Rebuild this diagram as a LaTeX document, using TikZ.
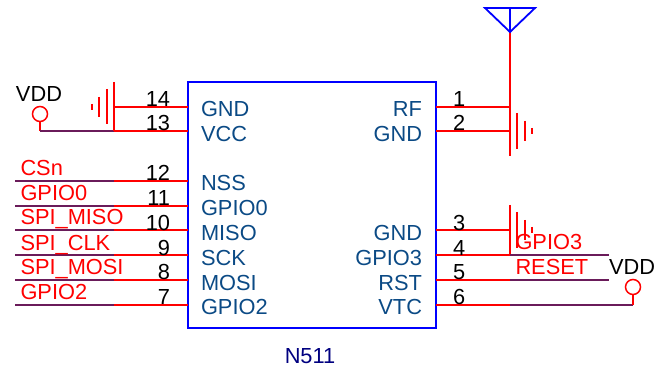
\documentclass[tikz,border=0pt]{standalone}
\usepackage{fontspec}
\setmainfont{Liberation Sans}
\definecolor{pinname}{HTML}{0B4A85}
\definecolor{netdark}{HTML}{6A1B5A}
\definecolor{wirered}{HTML}{FF0000}
\begin{document}
\begin{tikzpicture}[x=1pt, y=-1pt,
	every node/.style={inner sep=0, outer sep=0, font=\fontsize{21.8}{24}\selectfont},
	wire/.style={wirered, line width=1.5pt},
	net/.style={netdark, line width=1.5pt},
	gndbar/.style={wirered, line width=1.4pt},
	antenna/.style={blue, line width=1.8pt},
	pinnum/.style={black, anchor=base east},
	pinnumr/.style={black, anchor=base west},
	namel/.style={pinname, anchor=base west},
	namer/.style={pinname, anchor=base east},
	netlabel/.style={red, anchor=base west},
	supply/.style={circle, draw=red, line width=1.5pt, minimum size=15pt}]
	\useasboundingbox (0, 0) rectangle (671, 371);

	\node[draw=blue, line width=2pt, minimum width=247.5pt, minimum height=246pt] (chip) at (311.75, 205) {};
	\node[anchor=base, text=blue!50!black] (chip-name) at (310, 363) {N511};

	% left supply and ground
	\node[anchor=base west] (vdd-left-label) at (16, 102) {VDD};
	\node[supply] (vdd-left) at (40, 114) {};
	\coordinate (vdd-left-corner) at (40, 131);
	\coordinate (gnd-left-top) at (114, 82);
	\coordinate (gnd-left-a) at (114, 107);
	\coordinate (gnd-left-b) at (114, 131);
	\coordinate (pin-14) at (188, 107);
	\coordinate (pin-13) at (188, 131);
	\draw[wire] (vdd-left) -- (vdd-left-corner);
	\draw[net] (vdd-left-corner) -- (gnd-left-b);
	\draw[wire] (gnd-left-top) -- (gnd-left-b);
	\draw[wire] (gnd-left-a) -- (pin-14);
	\draw[wire] (gnd-left-b) -- (pin-13);
	\draw[gndbar] (107, 89) -- (107, 124);
	\draw[gndbar] (99, 97) -- (99, 117);
	\draw[gndbar] (92, 104) -- (92, 110);

	\node[pinnum] (num-14) at (170, 106.5) {14};
	\node[pinnum] (num-13) at (170, 131) {13};
	\node[namel] (name-14) at (201, 116.5) {GND};
	\node[namel] (name-13) at (201, 141.5) {VCC};

	% left nets
	\coordinate (net-12) at (15, 181);
	\coordinate (net-11) at (15, 206);
	\coordinate (net-10) at (15, 230);
	\coordinate (net-9) at (15, 255);
	\coordinate (net-8) at (15, 280);
	\coordinate (net-7) at (15, 305);
	\coordinate (mid-12) at (114, 181);
	\coordinate (mid-11) at (114, 206);
	\coordinate (mid-10) at (114, 230);
	\coordinate (mid-9) at (114, 255);
	\coordinate (mid-8) at (114, 280);
	\coordinate (mid-7) at (114, 305);
	\coordinate (pin-12) at (188, 181);
	\coordinate (pin-11) at (188, 206);
	\coordinate (pin-10) at (188, 230);
	\coordinate (pin-9) at (188, 255);
	\coordinate (pin-8) at (188, 280);
	\coordinate (pin-7) at (188, 305);
	\draw[net] (net-12) -- (mid-12);
	\draw[net] (net-11) -- (mid-11);
	\draw[net] (net-10) -- (mid-10);
	\draw[net] (net-9) -- (mid-9);
	\draw[net] (net-8) -- (mid-8);
	\draw[net] (net-7) -- (mid-7);
	\draw[wire] (mid-12) -- (pin-12);
	\draw[wire] (mid-11) -- (pin-11);
	\draw[wire] (mid-10) -- (pin-10);
	\draw[wire] (mid-9) -- (pin-9);
	\draw[wire] (mid-8) -- (pin-8);
	\draw[wire] (mid-7) -- (pin-7);

	\node[netlabel] (label-12) at (20.5, 176) {CSn};
	\node[netlabel] (label-11) at (20.5, 200.5) {GPIO0};
	\node[netlabel] (label-10) at (20.5, 225) {SPI\_MISO};
	\node[netlabel] (label-9) at (20.5, 250) {SPI\_CLK};
	\node[netlabel] (label-8) at (20.5, 274.5) {SPI\_MOSI};
	\node[netlabel] (label-7) at (20.5, 299.5) {GPIO2};

	\node[pinnum] (num-12) at (170, 181) {12};
	\node[pinnum] (num-11) at (170, 205.5) {11};
	\node[pinnum] (num-10) at (170, 230) {10};
	\node[pinnum] (num-9) at (170, 255) {9};
	\node[pinnum] (num-8) at (170, 279.5) {8};
	\node[pinnum] (num-7) at (170, 304.5) {7};

	\node[namel] (name-12) at (201, 191) {NSS};
	\node[namel] (name-11) at (201, 215.5) {GPIO0};
	\node[namel] (name-10) at (201, 240.5) {MISO};
	\node[namel] (name-9) at (201, 265) {SCK};
	\node[namel] (name-8) at (201, 290) {MOSI};
	\node[namel] (name-7) at (201, 314.5) {GPIO2};

	% antenna and top ground
	\coordinate (ant-left) at (485, 8);
	\coordinate (ant-right) at (535, 8);
	\coordinate (ant-tip) at (510, 32);
	\coordinate (ant-mid) at (510, 8);
	\coordinate (ant-end) at (510, 156);
	\coordinate (gnd-top-a) at (510, 107);
	\coordinate (gnd-top-b) at (510, 131);
	\coordinate (pin-1) at (436, 107);
	\coordinate (pin-2) at (436, 131);
	\draw[wire] (ant-tip) -- (ant-end);
	\draw[antenna, line join=miter] (ant-left) -- (ant-right) -- (ant-tip) -- cycle;
	\draw[antenna] (ant-mid) -- (ant-tip);
	\draw[wire] (pin-1) -- (gnd-top-a);
	\draw[wire] (pin-2) -- (gnd-top-b);
	\draw[gndbar] (517, 113) -- (517, 149);
	\draw[gndbar] (525, 121) -- (525, 141);
	\draw[gndbar] (532, 128) -- (532, 134);

	\node[pinnumr] (num-1) at (453, 106.5) {1};
	\node[pinnumr] (num-2) at (453, 131) {2};
	\node[namer] (name-1) at (422, 116.5) {RF};
	\node[namer] (name-2) at (422, 141.5) {GND};

	% right pins
	\coordinate (pin-3) at (436, 230);
	\coordinate (pin-4) at (436, 255);
	\coordinate (pin-5) at (436, 280);
	\coordinate (pin-6) at (436, 305);
	\coordinate (mid-3) at (510, 230);
	\coordinate (mid-4) at (510, 255);
	\coordinate (mid-5) at (510, 280);
	\coordinate (mid-6) at (510, 305);
	\coordinate (gnd-right-top) at (510, 205);
	\coordinate (net-4) at (609, 255);
	\coordinate (net-5) at (609, 280);
	\coordinate (vdd-right-corner) at (633, 305);
	\draw[wire] (pin-3) -- (mid-3);
	\draw[wire] (pin-4) -- (mid-4);
	\draw[wire] (pin-5) -- (mid-5);
	\draw[wire] (pin-6) -- (mid-6);
	\draw[wire] (gnd-right-top) -- (mid-4);
	\draw[gndbar] (517, 212) -- (517, 248);
	\draw[gndbar] (525, 220) -- (525, 240);
	\draw[gndbar] (532, 227) -- (532, 233);
	\draw[net] (mid-4) -- (net-4);
	\draw[net] (mid-5) -- (net-5);
	\draw[net] (mid-6) -- (vdd-right-corner);

	\node[supply] (vdd-right) at (633, 287) {};
	\draw[wire] (vdd-right) -- (vdd-right-corner);
	\node[anchor=base west] (vdd-right-label) at (609, 274) {VDD};

	\node[netlabel] (label-4) at (515.5, 249) {GPIO3};
	\node[netlabel] (label-5) at (515.5, 274) {RESET};

	\node[pinnumr] (num-3) at (453, 230) {3};
	\node[pinnumr] (num-4) at (453, 255) {4};
	\node[pinnumr] (num-5) at (453, 279.5) {5};
	\node[pinnumr] (num-6) at (453, 304.5) {6};

	\node[namer] (name-3) at (422, 240.5) {GND};
	\node[namer] (name-4) at (422, 265) {GPIO3};
	\node[namer] (name-5) at (422, 290) {RST};
	\node[namer] (name-6) at (422, 314.5) {VTC};
\end{tikzpicture}
\end{document}
